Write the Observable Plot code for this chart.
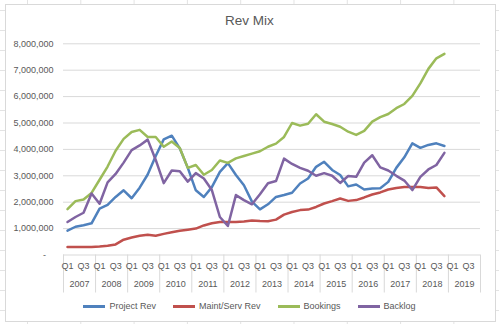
<!DOCTYPE html>
<html><head><meta charset="utf-8">
<script src="https://cdn.jsdelivr.net/npm/d3@7"></script>
<script src="https://cdn.jsdelivr.net/npm/@observablehq/plot@0.6"></script>
<style>
html,body{margin:0;padding:0;width:499px;height:324px;overflow:hidden;}
body{position:relative;font-family:"Liberation Sans",Arial,sans-serif;background-color:#fff;
background-image:linear-gradient(to right,#e3e3e3 1px,transparent 1px),linear-gradient(to bottom,#e3e3e3 1px,transparent 1px);
background-size:53.3px 20px;background-position:27px 0,0 10px;}
#box{position:absolute;left:5px;top:4px;width:489px;height:316px;background:#fff;border:1px solid #d9d9d9;}
#title{position:absolute;left:0;width:499px;top:13px;text-align:center;font-size:13.5px;color:#595959;}
#chart{position:absolute;left:0;top:0;}
#legend{position:absolute;left:0;width:499px;top:301px;display:flex;justify-content:center;gap:17px;font-size:9px;color:#595959;line-height:11px;}
.item{display:flex;align-items:center;gap:4px;}
.sw{width:22px;height:2.5px;}
</style></head>
<body>
<div id="box"></div>
<div id="chart"></div>
<div id="title">Rev Mix</div>
<div id="legend"></div>
<script>
const years = [2007,2008,2009,2010,2011,2012,2013,2014,2015,2016,2017,2018,2019];
const quarterNames = ["Q1","Q2","Q3","Q4"];
const seriesNames = ["Project Rev","Maint/Serv Rev","Bookings","Backlog"];
const seriesColors = ["#4F81BD","#C0504D","#9BBB59","#8064A2"];
const yTicks = [0,1000000,2000000,3000000,4000000,5000000,6000000,7000000,8000000];

// quarterly values, 2007 Q1 .. 2018 Q4
const projectRev = [
 920000,1070000,1130000,1200000,
 1760000,1900000,2200000,2450000,
 2150000,2550000,3050000,3750000,
 4380000,4520000,4040000,3300000,
 2450000,2200000,2570000,3150000,
 3480000,3030000,2640000,2020000,
 1730000,1920000,2200000,2270000,
 2360000,2710000,2900000,3340000,
 3530000,3220000,3030000,2600000,
 2670000,2480000,2520000,2530000,
 2770000,3300000,3700000,4230000,
 4060000,4170000,4230000,4130000];
const maintServRev = [
 300000,300000,300000,300000,
 320000,350000,400000,580000,
 660000,730000,770000,730000,
 800000,860000,920000,960000,
 1000000,1120000,1200000,1250000,
 1250000,1250000,1270000,1310000,
 1290000,1280000,1340000,1530000,
 1630000,1700000,1720000,1820000,
 1950000,2040000,2140000,2050000,
 2080000,2180000,2290000,2370000,
 2480000,2540000,2580000,2580000,
 2580000,2540000,2560000,2230000];
const bookings = [
 1740000,2040000,2100000,2350000,
 2850000,3350000,3950000,4400000,
 4660000,4740000,4470000,4470000,
 4100000,4300000,4050000,3300000,
 3410000,3040000,3220000,3580000,
 3490000,3660000,3750000,3840000,
 3930000,4100000,4220000,4470000,
 5000000,4900000,4970000,5330000,
 5050000,4960000,4860000,4670000,
 4550000,4700000,5050000,5220000,
 5340000,5560000,5720000,6030000,
 6500000,7050000,7450000,7620000];
const backlog = [
 1250000,1440000,1600000,2330000,
 1940000,2750000,3070000,3500000,
 3970000,4150000,4370000,3600000,
 2720000,3200000,3170000,2780000,
 3100000,2900000,2460000,1440000,
 1100000,2270000,2080000,1920000,
 2300000,2720000,2800000,3650000,
 3450000,3300000,3190000,3000000,
 3100000,3000000,2730000,2990000,
 2960000,3500000,3780000,3320000,
 3200000,3000000,2820000,2460000,
 2960000,3240000,3410000,3870000];

const seriesValues = [projectRev, maintServRev, bookings, backlog];
const rows = [];
seriesNames.forEach((name, s) => seriesValues[s].forEach((v, i) => rows.push({series: name, i, value: v})));

const nCats = years.length * quarterNames.length;
const qLabelData = [];
years.forEach((y, yi) => quarterNames.forEach((q, qi) => {
  if (q === "Q1" || q === "Q3") qLabelData.push({i: yi * 4 + qi, label: q});
}));
const yearData = years.map((y, yi) => ({mid: yi * 4 + 1.5, year: String(y)}));
const sepTicks = d3.range(0, years.length + 1).map(k => k * 4 - 0.5);
const fmt = d => d === 0 ? "-\u00a0\u00a0\u00a0" : d3.format(",")(d);

const chart = Plot.plot({
  width: 499, height: 324,
  marginLeft: 63, marginRight: 19, marginTop: 43.3, marginBottom: 69.5,
  x: {domain: [-0.5, nCats - 0.5], axis: null},
  y: {domain: [0, 8000000], axis: null},
  color: {domain: seriesNames, range: seriesColors},
  style: {fontFamily: "Liberation Sans, Arial, sans-serif", fontSize: "9px", color: "#595959", background: "transparent", overflow: "visible"},
  marks: [
    Plot.gridY({ticks: yTicks, stroke: "#d9d9d9", strokeOpacity: 1}),
    Plot.axisY({ticks: yTicks, tickSize: 0, tickPadding: 10, tickFormat: fmt, label: null}),
    Plot.axisX({ticks: sepTicks, tickSize: 38, tickFormat: () => "", label: null, stroke: "#d9d9d9", strokeOpacity: 1}),
    Plot.text(qLabelData, {x: "i", text: "label", frameAnchor: "bottom", dy: 13.5, fill: "#595959"}),
    Plot.text(yearData, {x: "mid", text: "year", frameAnchor: "bottom", dy: 31.5, fill: "#595959"}),
    Plot.lineY(rows, {x: "i", y: "value", z: "series", stroke: "series", strokeWidth: 2.5, strokeLinejoin: "round", strokeLinecap: "round"})
  ]
});
document.getElementById("chart").appendChild(chart);

const legend = document.getElementById("legend");
seriesNames.forEach((name, s) => {
  const item = document.createElement("div");
  item.className = "item";
  const sw = document.createElement("div");
  sw.className = "sw";
  sw.style.background = seriesColors[s];
  const lab = document.createElement("span");
  lab.textContent = name;
  item.appendChild(sw); item.appendChild(lab);
  legend.appendChild(item);
});
</script>
</body></html>
